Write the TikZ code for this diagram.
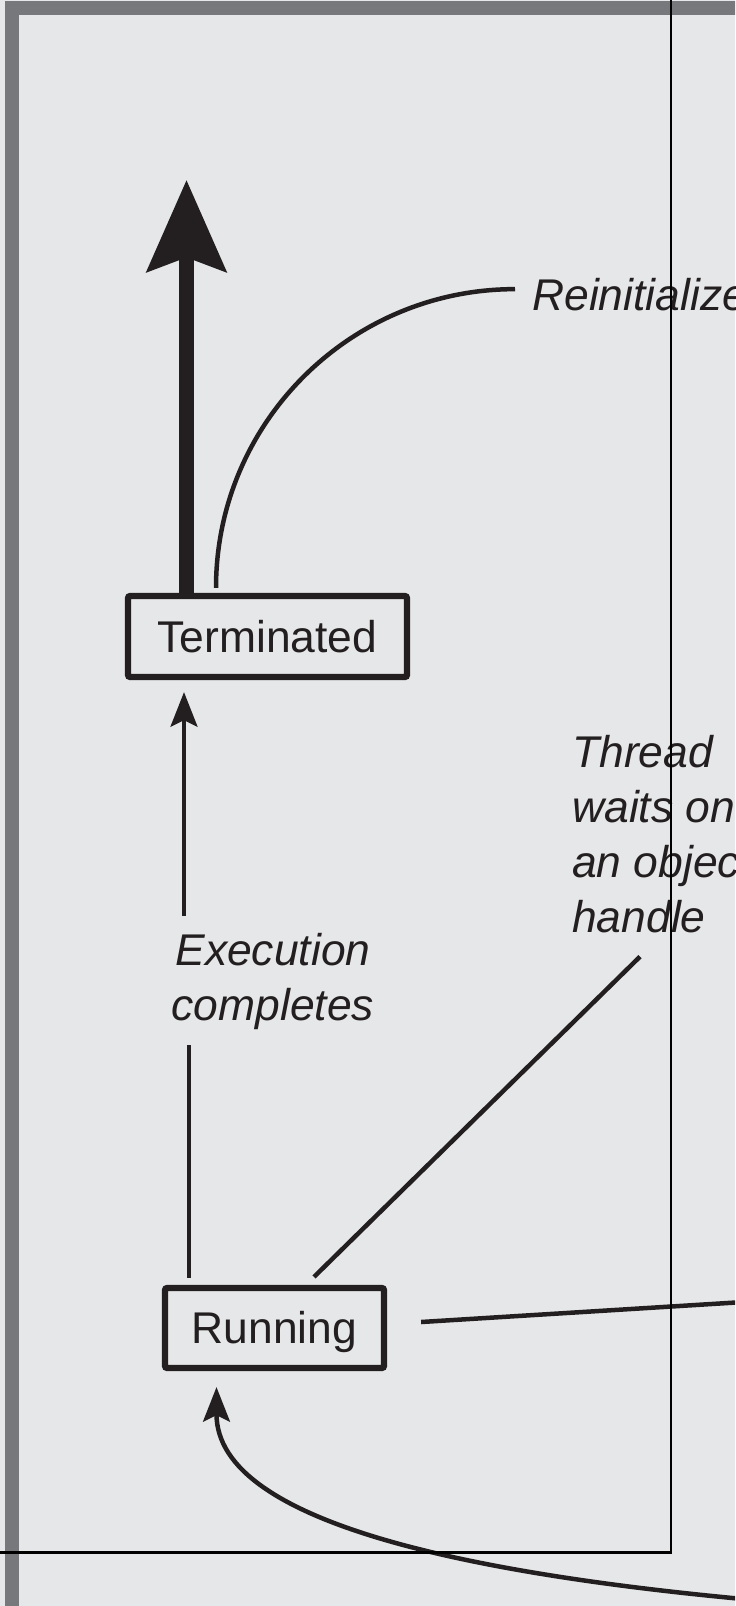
\documentclass[tikz,border=0pt]{standalone}
\usepackage{fontspec}
\setmainfont{Liberation Sans}
\usetikzlibrary{arrows.meta}

\definecolor{panel}{HTML}{E6E7E8}
\definecolor{frame}{HTML}{77787B}
\definecolor{ink}{HTML}{231F20}
\newcommand{\diagfont}{\fontsize{31.6}{39.1}\selectfont}

\tikzset{
  state/.style={draw=ink, line width=4.4pt, rounded corners=1.5pt, inner sep=0pt,
    text height=7.9mm, text depth=0pt, text=ink, font=\diagfont},
  note/.style={inner sep=0pt, text=ink, font=\diagfont\itshape},
  link/.style={draw=ink, line width=3.2pt},
  >={Stealth[length=24.5pt,width=19pt,inset=4.5pt]}
}

\begin{document}
\begin{tikzpicture}[x=0.25mm,y=-0.25mm]
          \useasboundingbox (0,0) rectangle (735,1606);
          \clip (0,0) rectangle (735,1606);
          \fill[panel] (0,0) rectangle (735,1606);
          \draw[frame, line width=10pt] (12,8) rectangle (800,1700);
          % states
          \node[state, minimum width=69.75mm, minimum height=20.25mm] (term) at (267.5,636.5) {Terminated};
          \node[state, minimum width=54.75mm, minimum height=20mm] (run) at (274.5,1328) {Running};
          % transition labels
          \node[note, anchor=base west] (reinit) at (532,310) {Reinitialized};
          \node[note, align=center, anchor=north] (exec) at (273,933.5) {Execution\\completes};
          \node[note, align=left, anchor=north west] (thread) at (572,735.5) {Thread\\waits on\\an object\\handle};
          \coordinate (exit) at (186.5,180);
          \coordinate (wait) at (760,1301);
          \coordinate (back) at (800,1604);
          % transitions
          \draw[link, line width=10pt, -{Stealth[length=65pt,width=56pt,inset=10pt]}] ([shift={(-81,0)}]term.north) -- (exit);
          \draw[link] ([shift={(-51.5,-5)}]term.north) .. controls +(0,-165) and +(-165,0) .. ([shift={(-17,-5)}]reinit.west);
          \draw[link, ->] ([shift={(-89,-17.5)}]exec.north) -- ([shift={(-83.5,12)}]term.south);
          \draw[link] ([shift={(-85.5,-7)}]run.north) -- ([shift={(-84,14.6)}]exec.south);
          \draw[link] ([shift={(68,23)}]thread.south west) -- ([shift={(39.5,-8)}]run.north);
          \draw[link] ([shift={(34,-6)}]run.east) -- (wait);
          \draw[link, ->] (back) .. controls (480,1578) and (216.5,1525) .. ([shift={(-58,16)}]run.south);
          % crop marks
          \draw[black, line width=1.8pt] (671,0) -- (671,1552.5) -- (0,1552.5);
        \end{tikzpicture}
\end{document}
